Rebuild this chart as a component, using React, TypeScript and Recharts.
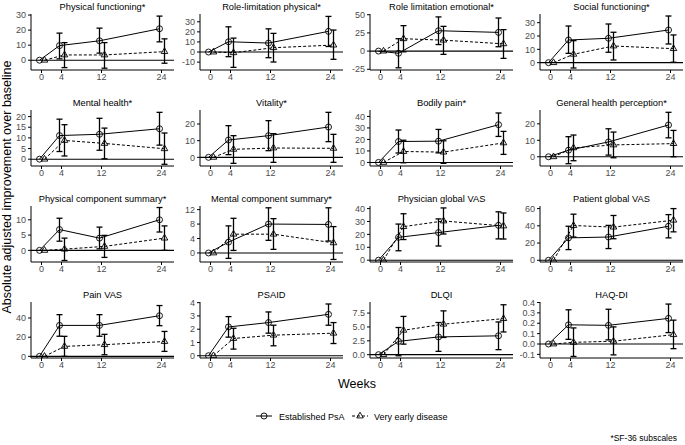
import { ComposedChart, Scatter, XAxis, YAxis, ErrorBar, ReferenceLine } from "recharts";

// weeks of follow-up; each row below is [mean, lower CI, upper CI] per week
const weeks = [0, 4, 12, 24];

const physFuncEst = [[0, 0, 0], [9.7, 0.9, 18], [12.9, 4.7, 21.3], [20.9, 12.2, 29.3]];
const physFuncEarly = [[0, 0, 0], [3.5, -4.9, 11.7], [3.5, -5.3, 11.7], [5.7, -2, 14.2]];

const rolePhysEst = [[0, 0, 0], [10.2, -4.6, 25], [8.9, -5.6, 23], [20.5, 5.5, 35.3]];
const rolePhysEarly = [[0, 0, 0], [-0.7, -15.2, 13.8], [4.3, -9.9, 18.5], [6.9, -7.2, 21.8]];

const roleEmoEst = [[0, 0, 0], [-3, -23, 17], [28, 9, 47], [25.7, 6, 45.5]];
const roleEmoEarly = [[0, 0, 0], [17, -1, 35], [15, -4.5, 34], [10, -10, 29.5]];

const socialEst = [[0, 0, 0], [17, 7, 27.5], [18.3, 7.8, 29], [24.5, 14, 35]];
const socialEarly = [[0, 0, 0], [6.3, -4, 16.5], [12.5, 2, 22.8], [10.5, 0.3, 20.8]];

const mentalEst = [[0, 0, 0], [11.1, 3.6, 18.8], [11.7, 4.2, 19.2], [14.3, 6.6, 22]];
const mentalEarly = [[0, 0, 0], [8.8, 1.5, 16.2], [7.4, 0.2, 14.6], [4.9, -2.4, 12.3]];

const vitalityEst = [[0, 0, 0], [10.4, 1.6, 19], [13, 4, 22], [18.2, 9.4, 27]];
const vitalityEarly = [[0, 0, 0], [4.8, -3.6, 13], [5.6, -3, 14.2], [5.4, -3, 13.8]];

const bodilyEst = [[0, 0, 0], [18.2, 8.2, 28.2], [18.5, 8.3, 28.7], [32.8, 22.6, 43]];
const bodilyEarly = [[0, 0, 0], [9.5, -0.3, 19.3], [9, -0.8, 18.8], [17, 7, 27]];

const genHealthEst = [[0, 0, 0], [4, -4.2, 12.2], [9, 1, 17], [19.3, 11.5, 27]];
const genHealthEarly = [[0, 0, 0], [5.4, -2.4, 13.2], [7.2, -0.6, 15], [8, 0, 16]];

const pcsEst = [[0, 0, 0], [6.8, 3, 10.5], [4, 0.5, 7.6], [10, 6, 14]];
const pcsEarly = [[0, 0, 0], [0.4, -3.3, 4], [1.3, -2.3, 4.9], [4, 0, 8]];

const mcsEst = [[0, 0, 0], [3, -1.5, 7.5], [8, 3.5, 12.5], [7.9, 3.3, 12.5]];
const mcsEarly = [[0, 0, 0], [5.2, 0.7, 9.6], [5.2, 1, 9.5], [2.8, -1.8, 7.3]];

const physVasEst = [[0, 0, 0], [17.7, 7.3, 28], [21.4, 11, 32], [27, 16.5, 37.5]];
const physVasEarly = [[0, 0, 0], [26, 16, 36], [30.4, 20.3, 40.5], [26.5, 16.4, 36.6]];

const patVasEst = [[0, 0, 0], [26, 12.4, 39.5], [27, 13.6, 40.5], [39.5, 26, 53]];
const patVasEarly = [[0, 0, 0], [40.3, 27, 53.5], [38.5, 25, 52], [46.5, 33, 60]];

const painVasEst = [[0, 0, 0], [32.3, 21, 43.5], [32.3, 21, 43.5], [42.4, 32, 53]];
const painVasEarly = [[0, 0, 0], [10.4, 0, 20.9], [12.2, 1.7, 23], [15.5, 5.2, 26]];

const psaidEst = [[0, 0, 0], [2.17, 1.4, 2.95], [2.5, 1.7, 3.3], [3.12, 2.3, 3.9]];
const psaidEarly = [[0, 0, 0], [1.3, 0.5, 2.07], [1.55, 0.75, 2.3], [1.7, 0.92, 2.5]];

const dlqiEst = [[0, 0, 0], [2.4, -0.2, 4.9], [3.2, 0.6, 5.8], [3.4, 0.9, 5.9]];
const dlqiEarly = [[0, 0, 0], [4.4, 1.9, 6.9], [5.5, 3.1, 7.9], [6.5, 4.1, 9]];

const haqEst = [[0, 0, 0], [0.185, 0.045, 0.33], [0.18, 0.04, 0.335], [0.247, 0.11, 0.385]];
const haqEarly = [[0, 0, 0], [0.016, -0.12, 0.155], [0.027, -0.105, 0.165], [0.09, -0.045, 0.23]];

const panels = [
  { title: "Physical functioning*", est: physFuncEst, early: physFuncEarly, domain: [-6.5, 30.7], ticks: [0, 10, 20, 30], dec: 0 },
  { title: "Role-limitation physical*", est: rolePhysEst, early: rolePhysEarly, domain: [-17.8, 37.7], ticks: [-10, 0, 10, 20, 30], dec: 0 },
  { title: "Role limitation emotional*", est: roleEmoEst, early: roleEmoEarly, domain: [-26, 51], ticks: [-25, 0, 25, 50], dec: 0 },
  { title: "Social functioning*", est: socialEst, early: socialEarly, domain: [-5.5, 36.5], ticks: [0, 10, 20, 30], dec: 0 },
  { title: "Mental health*", est: mentalEst, early: mentalEarly, domain: [-3.2, 23.1], ticks: [0, 5, 10, 15, 20], dec: 0 },
  { title: "Vitality*", est: vitalityEst, early: vitalityEarly, domain: [-5.2, 28.4], ticks: [0, 10, 20], dec: 0 },
  { title: "Bodily pain*", est: bodilyEst, early: bodilyEarly, domain: [-3.1, 45.6], ticks: [0, 10, 20, 30, 40], dec: 0 },
  { title: "General health perception*", est: genHealthEst, early: genHealthEarly, domain: [-5.6, 28.4], ticks: [0, 10, 20], dec: 0 },
  { title: "Physical component summary*", est: pcsEst, early: pcsEarly, domain: [-3.8, 14.5], ticks: [0, 5, 10], dec: 0 },
  { title: "Mental component summary*", est: mcsEst, early: mcsEarly, domain: [-2.5, 13], ticks: [0, 4, 8, 12], dec: 0 },
  { title: "Physician global VAS", est: physVasEst, early: physVasEarly, domain: [-1.4, 42], ticks: [0, 10, 20, 30, 40], dec: 0 },
  { title: "Patient global VAS", est: patVasEst, early: patVasEarly, domain: [-2, 63], ticks: [0, 20, 40, 60], dec: 0 },
  { title: "Pain VAS", est: painVasEst, early: painVasEarly, domain: [-1.7, 56.7], ticks: [0, 20, 40], dec: 0 },
  { title: "PSAID", est: psaidEst, early: psaidEarly, domain: [-0.17, 4.05], ticks: [0, 1, 2, 3, 4], dec: 0 },
  { title: "DLQI", est: dlqiEst, early: dlqiEarly, domain: [-0.6, 9.5], ticks: [0, 2.5, 5, 7.5], dec: 1 },
  { title: "HAQ-DI", est: haqEst, early: haqEarly, domain: [-0.135, 0.405], ticks: [-0.1, 0, 0.1, 0.2, 0.3, 0.4], dec: 1 },
];

const FONT = "'Liberation Sans', Arial, sans-serif";
const plotLefts = [31, 200, 370, 540];
const plotTops = [14, 110, 206, 302];
const PLOT_W = 143;
const PLOT_H = 56;
const Y_W = 31;
const M_TOP = 4;

const toPoints = (rows: number[][], shift: number) =>
  rows.map(([m, lo, hi], i) => ({
    x: weeks[i] + shift,
    y: m,
    err: hi > lo ? [m - lo, hi - m] : null,
  }));

const Circle = (p: any) => (
  <circle cx={p.cx} cy={p.cy} r={3} fill="none" stroke="#000" strokeWidth={0.9} />
);

const Triangle = (p: any) => {
  const r = 3.8;
  const pts = `${p.cx},${p.cy - r} ${p.cx - r * 0.866},${p.cy + r / 2} ${p.cx + r * 0.866},${p.cy + r / 2}`;
  return <polygon points={pts} fill="none" stroke="#000" strokeWidth={0.9} />;
};

const Panel = ({ p, i }: any) => {
  const col = i % 4;
  const row = Math.floor(i / 4);
  return (
    <div style={{ position: "absolute", left: plotLefts[col] - Y_W, top: plotTops[row] - M_TOP }}>
      <ComposedChart
        width={Y_W + PLOT_W + 2}
        height={M_TOP + PLOT_H + 18}
        margin={{ top: M_TOP, right: 2, bottom: 0, left: 0 }}
      >
        <XAxis
          type="number"
          dataKey="x"
          domain={[-2.1, 26.5]}
          ticks={weeks}
          interval={0}
          allowDataOverflow
          height={18}
          stroke="#000"
          tickSize={3}
          tickMargin={1}
          tick={{ fontSize: 9, fill: "#4d4d4d", fontFamily: FONT }}
        />
        <YAxis
          type="number"
          dataKey="y"
          domain={p.domain}
          ticks={p.ticks}
          interval={0}
          allowDataOverflow
          width={Y_W}
          stroke="#000"
          tickSize={3}
          tickMargin={2}
          tickFormatter={(v: number) => v.toFixed(p.dec)}
          tick={{ fontSize: 9, fill: "#4d4d4d", fontFamily: FONT }}
        />
        <ReferenceLine y={0} stroke="#000" strokeWidth={1.1} />
        <Scatter
          data={toPoints(p.est, -0.4)}
          line={{ stroke: "#000", strokeWidth: 1 }}
          lineType="joint"
          shape={Circle}
          isAnimationActive={false}
        >
          <ErrorBar dataKey="err" direction="y" width={3} stroke="#000" strokeWidth={1.3} />
        </Scatter>
        <Scatter
          data={toPoints(p.early, 0.6)}
          line={{ stroke: "#000", strokeWidth: 1, strokeDasharray: "3 2" }}
          lineType="joint"
          shape={Triangle}
          isAnimationActive={false}
        >
          <ErrorBar dataKey="err" direction="y" width={3} stroke="#000" strokeWidth={1.3} />
        </Scatter>
      </ComposedChart>
    </div>
  );
};

export default function App() {
  return (
    <div
      style={{
        position: "absolute",
        left: 0,
        top: 0,
        width: 685,
        height: 445,
        background: "#fff",
        fontFamily: FONT,
        overflow: "hidden",
      }}
    >
      {panels.map((p, i) => (
        <Panel key={p.title} p={p} i={i} />
      ))}
      <svg width={685} height={445} style={{ position: "absolute", left: 0, top: 0, pointerEvents: "none" }}>
        {panels.map((p, i) => (
          <text
            key={p.title}
            x={plotLefts[i % 4] + PLOT_W / 2}
            y={plotTops[Math.floor(i / 4)] - 4}
            textAnchor="middle"
            fontSize={9.3}
            fontFamily={FONT}
            fill="#000"
          >
            {p.title}
          </text>
        ))}
        <text
          transform="translate(11,187) rotate(-90)"
          textAnchor="middle"
          fontSize={12.5}
          fontFamily={FONT}
          fill="#000"
        >
          Absolute adjusted improvement over baseline
        </text>
        <text x={357} y={388} textAnchor="middle" fontSize={12.5} fontFamily={FONT} fill="#000">
          Weeks
        </text>
        <line x1={256} x2={272} y1={416} y2={416} stroke="#000" strokeWidth={1} />
        <Circle cx={264} cy={416} />
        <text x={279} y={419.5} fontSize={9} fontFamily={FONT} fill="#000">
          Established PsA
        </text>
        <line x1={352} x2={368} y1={416} y2={416} stroke="#000" strokeWidth={1} strokeDasharray="3 2" />
        <Triangle cx={360} cy={416} />
        <text x={374} y={419.5} fontSize={9} fontFamily={FONT} fill="#000">
          Very early disease
        </text>
        <text x={677} y={441} textAnchor="end" fontSize={8.5} fontFamily={FONT} fill="#000">
          *SF-36 subscales
        </text>
      </svg>
    </div>
  );
}
